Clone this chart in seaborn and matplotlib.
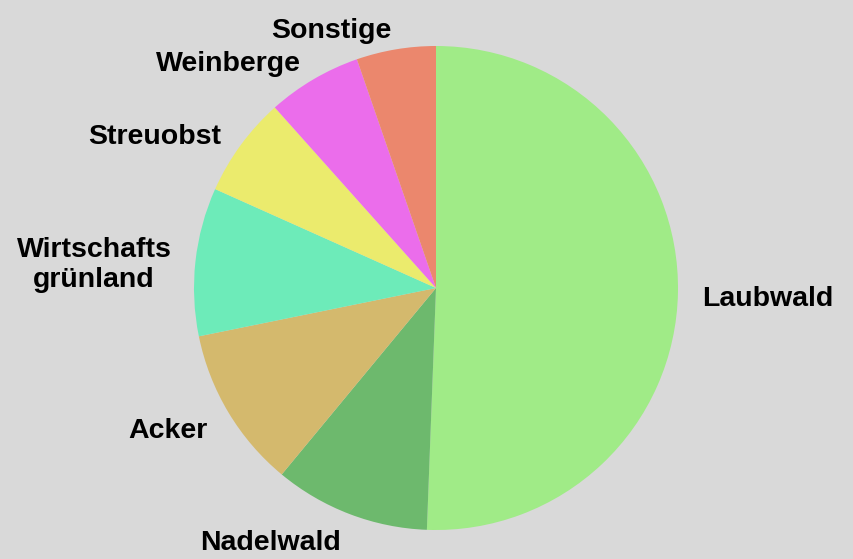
import matplotlib
matplotlib.use("Agg")
import matplotlib.pyplot as plt
import matplotlib.transforms as mtransforms
import seaborn as sns

labels = ["Laubwald", "Nadelwald", "Acker", "Wirtschafts\ngrünland", "Streuobst", "Weinberge", "Sonstige"]
shares = [50.6, 10.4, 10.8, 9.9, 6.7, 6.3, 5.3]
colors = ["#a0eb87", "#6db96d", "#d4b96d", "#6debb9", "#ebeb6d", "#eb6deb", "#eb876d"]

sns.set_style("white")
plt.rcParams['font.family'] = ['Liberation Sans', 'DejaVu Sans']

bg = "#d9d9d9"
fig = plt.figure(figsize=(8.54, 5.59), dpi=100, facecolor=bg)
ax = fig.add_axes([0, 0, 1, 1])
ax.set_facecolor(bg)

wedges, texts = ax.pie(shares, labels=labels, colors=sns.color_palette(colors),
                       startangle=90, counterclock=False, labeldistance=1.1,
                       wedgeprops=dict(linewidth=0, edgecolor='none'),
                       textprops=dict(fontsize=20.5, fontweight='bold', color='black',
                                      multialignment='center'))

# nudge labels a little lower, like the original
shift = mtransforms.offset_copy(ax.transData, fig=fig, x=0, y=-6, units='dots')
for t in texts:
    t.set_transform(shift)

# pixel mapping: centre at (436, 288), radius 242 px
r = 242.0
ax.set_aspect('auto')
ax.set_xlim(-436 / r, (854 - 436) / r)
ax.set_ylim(-(559 - 288) / r, 288 / r)
ax.axis('off')

fig.savefig("out.png", dpi=100, facecolor=bg)
